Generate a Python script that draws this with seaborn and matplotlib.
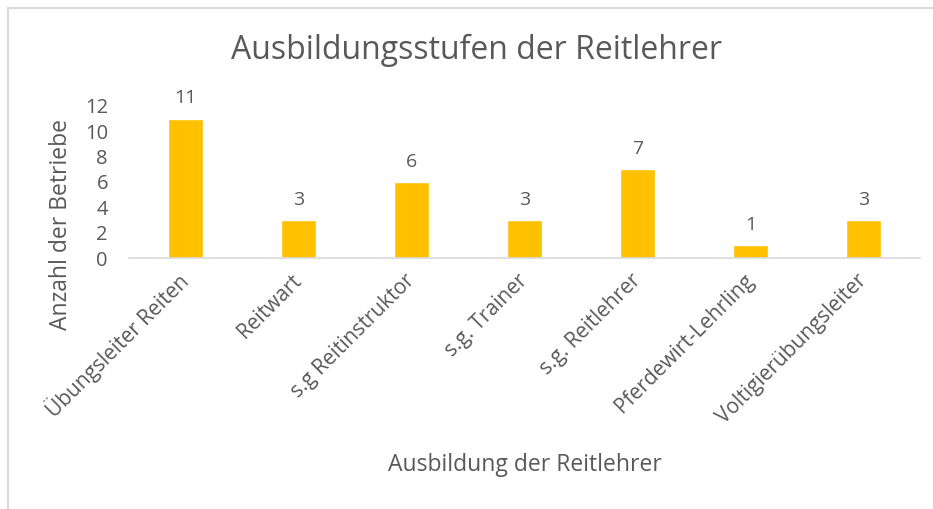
import matplotlib
matplotlib.use("Agg")
import matplotlib.pyplot as plt
import seaborn as sns
import pandas as pd
from matplotlib.patches import Rectangle

categories = ["Übungsleiter Reiten", "Reitwart", "s.g Reitinstruktor", "s.g. Trainer",
              "s.g. Reitlehrer", "Pferdewirt-Lehrling", "Voltigierübungsleiter"]
counts = [11, 3, 6, 3, 7, 1, 3]
yticks = [0, 2, 4, 6, 8, 10, 12]

df = pd.DataFrame({"Ausbildung": categories, "Anzahl": counts})

sns.set_theme(style="white")
plt.rcParams['font.family'] = ['Open Sans', 'DejaVu Sans']
text_color = "#595959"

fig = plt.figure(figsize=(9.33, 5.09), dpi=100)
ax = fig.add_axes([0.138, 0.493, 0.848, 0.299])

sns.barplot(data=df, x="Ausbildung", y="Anzahl", color="#FFC000", width=0.31,
            saturation=1, ax=ax)

# Werte über den Balken
for i, v in enumerate(counts):
    ax.text(i, v + 0.9, str(v), ha="center", va="bottom", fontsize=14, color=text_color)

ax.set_ylim(0, 12)
ax.set_yticks(yticks)
ax.set_xlim(-0.5, len(categories) - 0.5)
ax.tick_params(axis="y", labelsize=14.5, labelcolor=text_color, length=0, pad=15)
ax.tick_params(axis="x", labelsize=15, labelcolor=text_color, length=0, pad=14)
for lbl in ax.get_xticklabels():
    lbl.set_rotation(45)
    lbl.set_ha("right")
    lbl.set_va("center")
    lbl.set_rotation_mode("anchor")

for s in ["top", "right", "left"]:
    ax.spines[s].set_visible(False)
ax.spines["bottom"].set_color("#D9D9D9")
ax.spines["bottom"].set_linewidth(1.2)

ax.set_xlabel("")
ax.set_ylabel("Anzahl der Betriebe", fontsize=16.5, color=text_color)
ax.yaxis.set_label_coords(-0.071, 0.22)

fig.text(525 / 933, 1 - 465 / 509, "Ausbildung der Reitlehrer", ha="center", va="center",
         fontsize=16.5, color=text_color)
fig.text(476 / 933, 1 - 50 / 509, "Ausbildungsstufen der Reitlehrer", ha="center", va="center",
         fontsize=23, color=text_color)

# Rahmen wie im Original
fig.patches.append(Rectangle((8 / 933, -0.1), 1.2, 1.1 - 8 / 509, transform=fig.transFigure,
                             fill=False, edgecolor="#D9D9D9", linewidth=1.5))

fig.savefig("out.png", dpi=100)
